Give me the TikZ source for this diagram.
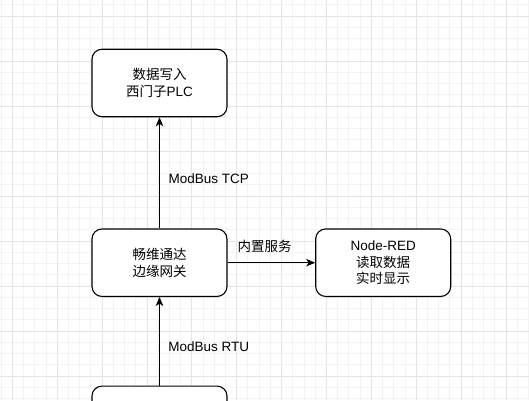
\documentclass[tikz,border=0pt]{standalone}
\usepackage{fontspec}
\setmainfont{Liberation Sans}
\newfontfamily\cjk{Noto Sans CJK SC}
\usetikzlibrary{arrows.meta}
\definecolor{gridminor}{HTML}{F3F3F3}
\definecolor{gridmajor}{HTML}{E4E4E4}
\tikzset{
  box/.style={draw=black, line width=1.1pt, rounded corners=10pt, fill=white,
    minimum width=135pt, minimum height=67.5pt, align=center, inner sep=0pt,
    font=\fontsize{13.5}{16.8}\selectfont},
  conn/.style={draw=black, line width=1.1pt, -{Stealth[length=9pt,width=7.5pt,inset=2.5pt]}},
  lbl/.style={inner sep=0pt, font=\fontsize{13.5}{16}\selectfont},
}
\begin{document}
\begin{tikzpicture}[x=1pt,y=-1pt]
\useasboundingbox (0,0) rectangle (529,400);
\clip (0,0) rectangle (529,400);
\fill[white] (0,0) rectangle (529,400);
% minor grid
\foreach \i in {-2,...,48} {
  \draw[gridminor, line width=0.75pt] ({12.25+\i*11.22},0) -- ({12.25+\i*11.22},400);
}
\foreach \j in {-2,...,37} {
  \draw[gridminor, line width=0.75pt] (0,{16+\j*11.25}) -- (529,{16+\j*11.25});
}
% major grid
\foreach \i in {0,...,12} {
  \draw[gridmajor, line width=0.75pt] ({12.25+\i*44.88},0) -- ({12.25+\i*44.88},400);
}
\foreach \j in {-1,...,9} {
  \draw[gridmajor, line width=0.75pt] (0,{16+\j*45}) -- (529,{16+\j*45});
}
% nodes
\node[box] (plc) at (159.5,83) {{\cjk 数据写入}\\{\cjk 西门子}PLC};
\node[box] (gw) at (159.5,262.7) {{\cjk 畅维通达}\\{\cjk 边缘网关}};
\node[box] (nr) at (383.2,262.7) {Node-RED\\{\cjk 读取数据}\\{\cjk 实时显示}};
\node[box] (dev) at (159.5,419.8) {};
% connectors
\draw[conn] (gw.north) -- (plc.south);
\draw[conn] (dev.north) -- (gw.south);
\draw[conn] (gw.east) -- (nr.west);
% labels
\node[lbl] (ltcp) at (208.8,178.5) {ModBus TCP};
\node[lbl] (lrtu) at (208.8,347) {ModBus RTU};
\node[lbl] (lsvc) at (264.7,246) {\cjk 内置服务};
\end{tikzpicture}
\end{document}
